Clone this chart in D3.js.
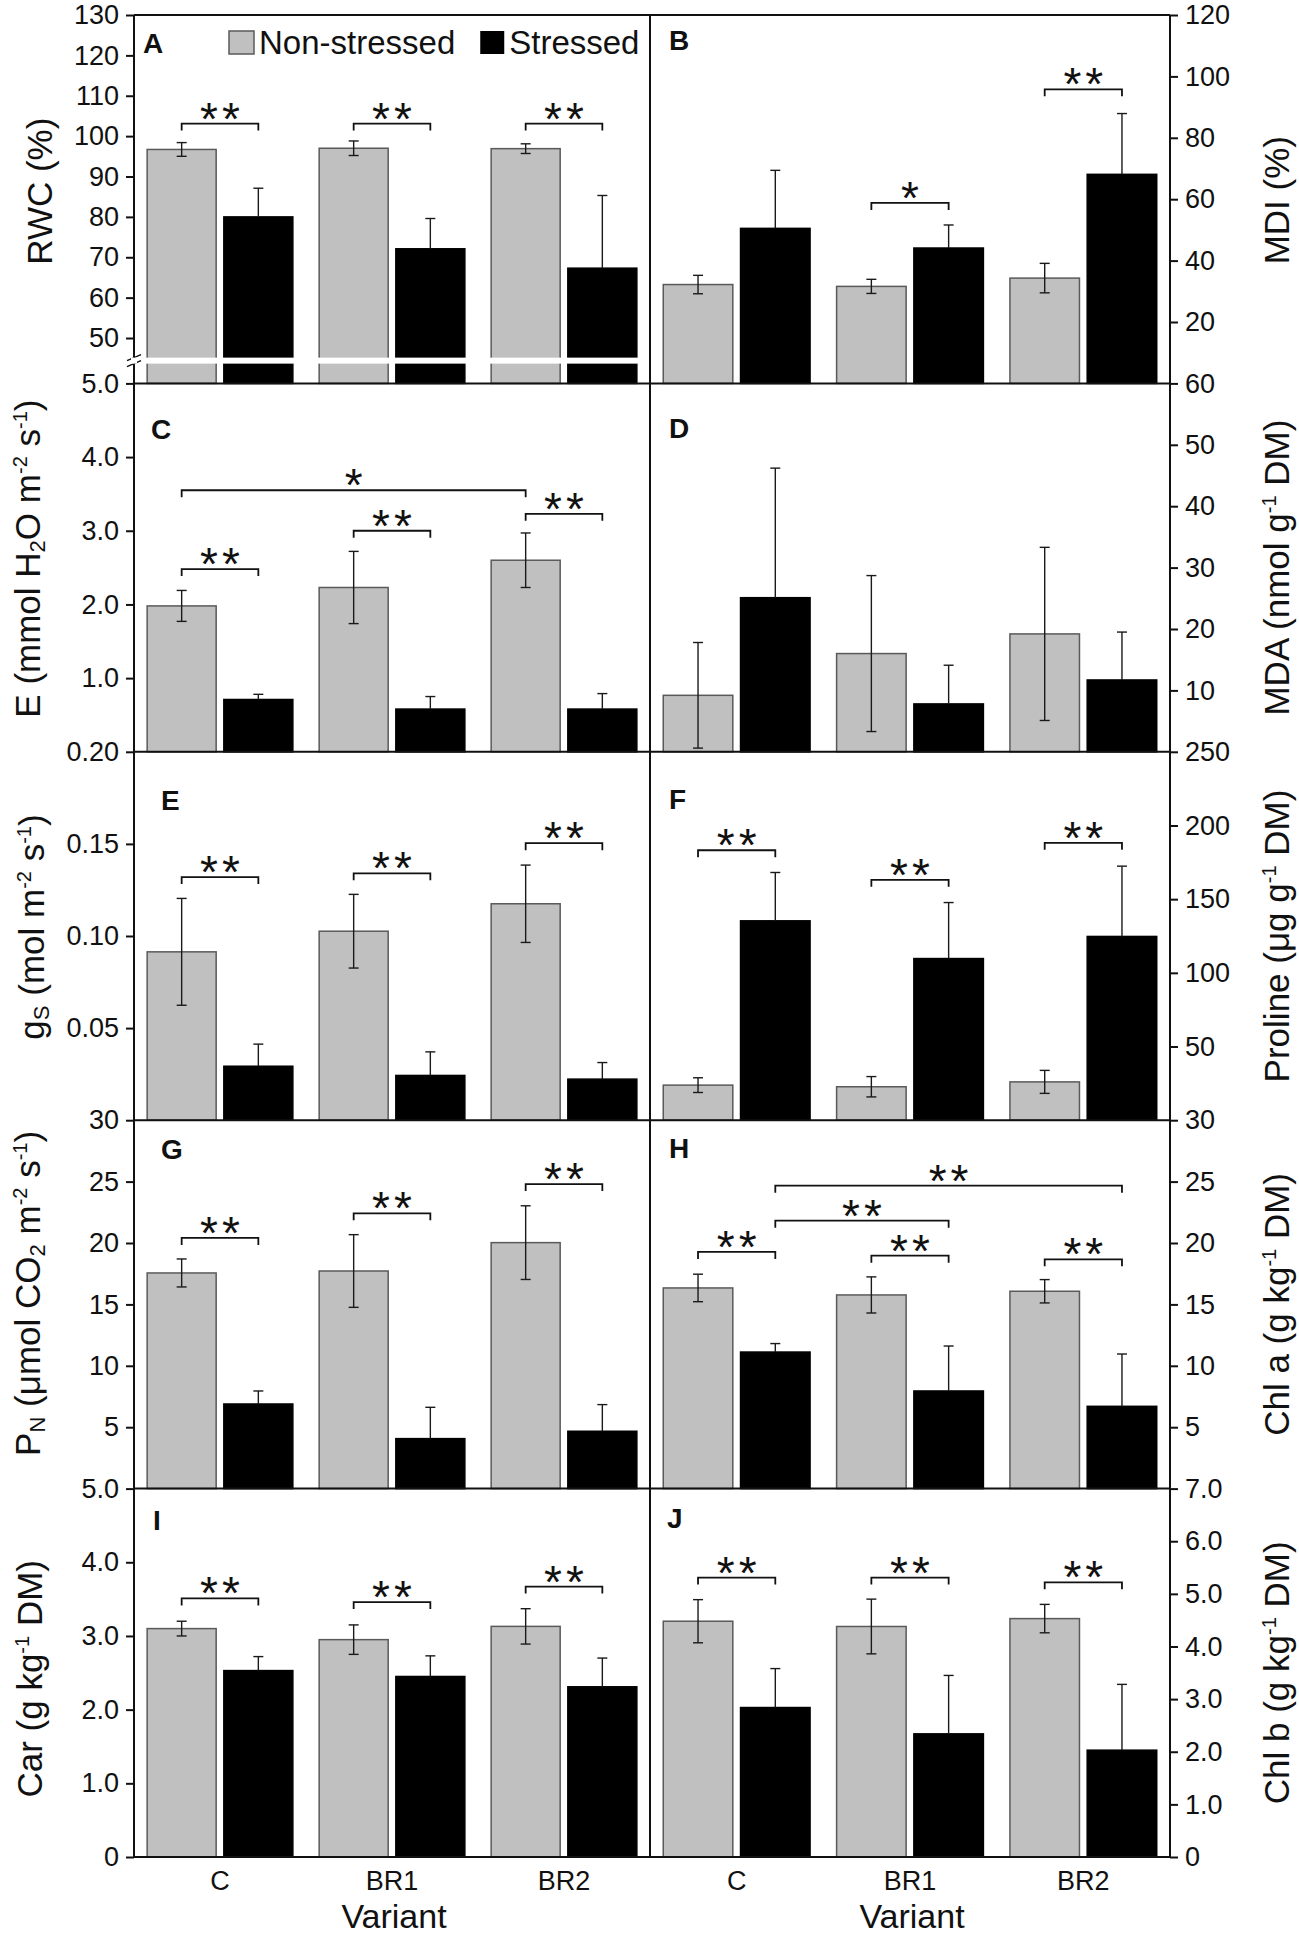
<!DOCTYPE html>
<html>
<head>
<meta charset="utf-8">
<script src="https://cdn.jsdelivr.net/npm/d3@7"></script>
<style>
  body { margin: 0; background: #fff; }
  svg text { font-family: "Liberation Sans", Arial, sans-serif; fill: #111; }
</style>
</head>
<body>
<div id="chart"></div>
<script>
//Data: [non-stressed, stressed] x [C, BR1, BR2]

	var variants = ["C", "BR1", "BR2"];
	var groups = ["Non-stressed", "Stressed"];

	//A - RWC (%)
	var rwcMean = [[96.7, 97.0, 96.9], [80.0, 72.1, 67.3]];
	var rwcErr = [[1.7, 1.8, 1.2], [7.1, 7.5, 18.0]];
	var rwcTicks = [50, 60, 70, 80, 90, 100, 110, 120, 130];
	var rwcSig = [[0, 1, 103.1, "**"], [2, 3, 103.1, "**"], [4, 5, 103.1, "**"]];

	//B - MDI (%)
	var mdiMean = [[32.2, 31.6, 34.3], [50.5, 44.1, 68.1]];
	var mdiErr = [[3.0, 2.3, 4.8], [18.9, 7.5, 19.8]];
	var mdiTicks = [20, 40, 60, 80, 100, 120];
	var mdiSig = [[2, 3, 58.8, "*"], [4, 5, 95.8, "**"]];

	//C - E
	var eMean = [[1.98, 2.23, 2.60], [0.71, 0.58, 0.58]];
	var eErr = [[0.21, 0.49, 0.37], [0.07, 0.17, 0.21]];
	var eTicks = [1, 2, 3, 4, 5];
	var eSig = [[0, 1, 2.48, "**"], [2, 3, 3.0, "**"], [4, 5, 3.23, "**"], [0, 4, 3.55, "*"]];

	//D - MDA
	var mdaMean = [[9.2, 16.0, 19.2], [25.1, 7.8, 11.7]];
	var mdaErr = [[8.6, 12.7, 14.1], [21.1, 6.3, 7.8]];
	var mdaTicks = [10, 20, 30, 40, 50, 60];
	var mdaSig = [];

	//E - gs
	var gsMean = [[0.0914, 0.1026, 0.1175], [0.0293, 0.0243, 0.0223]];
	var gsErr = [[0.029, 0.020, 0.021], [0.012, 0.0128, 0.009]];
	var gsTicks = [0.05, 0.10, 0.15, 0.20];
	var gsSig = [[0, 1, 0.132, "**"], [2, 3, 0.134, "**"], [4, 5, 0.1504, "**"]];

	//F - Proline
	var proMean = [[23.8, 22.7, 26.0], [135.3, 109.7, 124.7]];
	var proErr = [[5.0, 6.9, 7.8], [32.8, 38.0, 47.7]];
	var proTicks = [50, 100, 150, 200, 250];
	var proSig = [[0, 1, 183.2, "**"], [2, 3, 163.1, "**"], [4, 5, 188.2, "**"]];

	//G - PN
	var pnMean = [[17.56, 17.72, 20.03], [6.89, 4.07, 4.67]];
	var pnErr = [[1.14, 2.96, 3.0], [1.06, 2.55, 2.17]];
	var pnTicks = [5, 10, 15, 20, 25, 30];
	var pnSig = [[0, 1, 20.41, "**"], [2, 3, 22.42, "**"], [4, 5, 24.8, "**"]];

	//H - Chl a
	var chlaMean = [[16.34, 15.77, 16.07], [11.12, 7.95, 6.70]];
	var chlaErr = [[1.12, 1.47, 0.95], [0.69, 3.66, 4.26]];
	var chlaTicks = [5, 10, 15, 20, 25, 30];
	var chlaSig = [[0, 1, 19.27, "**"], [2, 3, 18.97, "**"], [4, 5, 18.67, "**"], [1, 3, 21.82, "**"], [1, 5, 24.67, "**"]];

	//I - Car
	var carMean = [[3.10, 2.95, 3.13], [2.53, 2.45, 2.31]];
	var carErr = [[0.10, 0.20, 0.24], [0.19, 0.28, 0.39]];
	var carTicks = [0, 1, 2, 3, 4, 5];
	var carSig = [[0, 1, 3.51, "**"], [2, 3, 3.46, "**"], [4, 5, 3.67, "**"]];

	//J - Chl b
	var chlbMean = [[4.48, 4.38, 4.53], [2.84, 2.34, 2.03]];
	var chlbErr = [[0.41, 0.52, 0.27], [0.74, 1.11, 1.25]];
	var chlbTicks = [0, 1, 2, 3, 4, 5, 6, 7];
	var chlbSig = [[0, 1, 5.31, "**"], [2, 3, 5.31, "**"], [4, 5, 5.22, "**"]];

//Layout
	var W = 1299, H = 1937;
	var leftX = 134, midX = 650, rightX = 1170;
	var topY = 15, rowH = 368.4;
	var font = "'Liberation Sans', Arial, sans-serif";

	var fmtInt = d3.format("d");
	var fmt1 = d3.format(".1f");
	var fmt2 = d3.format(".2f");
	var fmtZero1 = function(d) { return d === 0 ? "0" : fmt1(d); };

	//title pieces: [text, "sup" | "sub" | undefined]
	var panels = [
		{id: "A", col: 0, row: 0, mean: rwcMean, err: rwcErr, ticks: rwcTicks, lo: 38.76, fmt: fmtInt, sig: rwcSig,
			letter: [9, 38], titleX: 52, titleDy: -8, title: [["RWC (%)"]]},
		{id: "B", col: 1, row: 0, mean: mdiMean, err: mdiErr, ticks: mdiTicks, lo: 0, fmt: fmtInt, sig: mdiSig,
			letter: [19, 35], titleX: 1289, titleDy: 1, title: [["MDI (%)"]]},
		{id: "C", col: 0, row: 1, mean: eMean, err: eErr, ticks: eTicks, lo: 0, fmt: fmt1, sig: eSig,
			letter: [17, 56], titleX: 40, titleDy: -9, title: [["E (mmol H"], ["2", "sub"], ["O m"], ["-2", "sup"], [" s"], ["-1", "sup"], [")"]]},
		{id: "D", col: 1, row: 1, mean: mdaMean, err: mdaErr, ticks: mdaTicks, lo: 0, fmt: fmtInt, sig: mdaSig,
			letter: [19, 55], titleX: 1289, titleDy: 0, title: [["MDA (nmol g"], ["-1", "sup"], [" DM)"]]},
		{id: "E", col: 0, row: 2, mean: gsMean, err: gsErr, ticks: gsTicks, lo: 0, fmt: fmt2, sig: gsSig,
			letter: [27, 58], titleX: 44, titleDy: -9, title: [["g"], ["S", "sub"], [" (mol m"], ["-2", "sup"], [" s"], ["-1", "sup"], [")"]]},
		{id: "F", col: 1, row: 2, mean: proMean, err: proErr, ticks: proTicks, lo: 0, fmt: fmtInt, sig: proSig,
			letter: [19, 57], titleX: 1289, titleDy: 0, title: [["Proline (μg g"], ["-1", "sup"], [" DM)"]]},
		{id: "G", col: 0, row: 3, mean: pnMean, err: pnErr, ticks: pnTicks, lo: 0, fmt: fmtInt, sig: pnSig,
			letter: [27, 39], titleX: 40, titleDy: -11, title: [["P"], ["N", "sub"], [" (μmol CO"], ["2", "sub"], [" m"], ["-2", "sup"], [" s"], ["-1", "sup"], [")"]]},
		{id: "H", col: 1, row: 3, mean: chlaMean, err: chlaErr, ticks: chlaTicks, lo: 0, fmt: fmtInt, sig: chlaSig,
			letter: [19, 38], titleX: 1289, titleDy: 0, title: [["Chl a (g kg"], ["-1", "sup"], [" DM)"]]},
		{id: "I", col: 0, row: 4, mean: carMean, err: carErr, ticks: carTicks, lo: 0, fmt: fmtZero1, sig: carSig,
			letter: [19, 41], titleX: 42, titleDy: 6, title: [["Car (g kg"], ["-1", "sup"], [" DM)"]]},
		{id: "J", col: 1, row: 4, mean: chlbMean, err: chlbErr, ticks: chlbTicks, lo: 0, fmt: fmtZero1, sig: chlbSig,
			letter: [17, 39], titleX: 1289, titleDy: 0, title: [["Chl b (g kg"], ["-1", "sup"], [" DM)"]]}
	];

//Canvas
	var svg = d3.select("#chart").append("svg")
		.attr("width", W)
		.attr("height", H)
		.style("display", "block");

	var plotLayer = svg.append("g");
	var frameLayer = svg.append("g");

	panels.forEach(function(p) {
		var px = p.col === 0 ? leftX : midX,
			pw = p.col === 0 ? midX - leftX : rightX - midX,
			py = topY + p.row * rowH;

		var g = plotLayer.append("g").attr("transform", "translate(" + px + "," + py + ")");

		var x0 = d3.scaleBand().domain(variants).range([0, pw]).paddingInner(0.153).paddingOuter(0.0765);
		var x1 = d3.scaleBand().domain(groups).range([0, x0.bandwidth()]).paddingInner(0.1);
		var y = d3.scaleLinear().domain([p.lo, p.ticks[p.ticks.length - 1]]).range([rowH, 0]);

		var cx = function(k) { return x0(variants[Math.floor(k / 2)]) + x1(groups[k % 2]) + x1.bandwidth() / 2; };

		var bars = [];
		groups.forEach(function(s, si) {
			variants.forEach(function(v, vi) {
				bars.push({v: v, s: s, si: si, mean: p.mean[si][vi], err: p.err[si][vi]});
			});
		});

		//bars
		g.selectAll("rect.bar")
			.data(bars)
			.enter()
			.append("rect")
				.attr("class", "bar")
				.attr("x", function(d) { return x0(d.v) + x1(d.s); })
				.attr("y", function(d) { return y(d.mean); })
				.attr("width", x1.bandwidth())
				.attr("height", function(d) { return rowH - y(d.mean); })
				.attr("fill", function(d) { return d.si === 0 ? "#c0c0c0" : "#000"; })
				.attr("stroke", function(d) { return d.si === 0 ? "#5a5a5a" : "#000"; })
				.attr("stroke-width", 1.5);

		//error bars (only the upper half shows on the black bars)
		var eb = g.selectAll("g.err")
			.data(bars)
			.enter()
			.append("g")
				.attr("class", "err")
				.attr("stroke", "#1a1a1a")
				.attr("stroke-width", 1.4)
				.attr("transform", function(d) { return "translate(" + (x0(d.v) + x1(d.s) + x1.bandwidth() / 2) + ",0)"; });
		eb.append("line")
			.attr("y1", function(d) { return y(d.mean + d.err); })
			.attr("y2", function(d) { return d.si === 0 ? y(Math.max(p.lo, d.mean - d.err)) : y(d.mean); });
		eb.append("line")
			.attr("x1", -5).attr("x2", 5)
			.attr("y1", function(d) { return y(d.mean + d.err); })
			.attr("y2", function(d) { return y(d.mean + d.err); });
		eb.filter(function(d) { return d.si === 0; })
			.append("line")
			.attr("x1", -5).attr("x2", 5)
			.attr("y1", function(d) { return y(d.mean - d.err); })
			.attr("y2", function(d) { return y(d.mean - d.err); });

		//axis break on the RWC panel
		if (p.id === "A") {
			var yb = y(44.4);
			g.append("rect")
				.attr("x", -8).attr("y", yb - 3)
				.attr("width", pw - 1).attr("height", 6)
				.attr("fill", "#fff");
			[-3, 3].forEach(function(o) {
				g.append("line")
					.attr("x1", -7).attr("y1", yb + o + 3)
					.attr("x2", 7).attr("y2", yb + o - 3)
					.attr("stroke", "#111").attr("stroke-width", 1.5);
			});
		}

		//significance brackets
		var sig = g.selectAll("g.sig")
			.data(p.sig)
			.enter()
			.append("g")
				.attr("class", "sig");
		sig.append("path")
			.attr("d", function(d) {
				var a = cx(d[0]), b = cx(d[1]), yy = y(d[2]);
				return "M" + a + "," + (yy + 7) + "V" + yy + "H" + b + "V" + (yy + 7);
			})
			.attr("fill", "none")
			.attr("stroke", "#111")
			.attr("stroke-width", 1.8);
		sig.append("text")
			.attr("x", function(d) { return (cx(d[0]) + cx(d[1])) / 2 + 2; })
			.attr("y", function(d) { return y(d[2]) + 11; })
			.attr("text-anchor", "middle")
			.attr("font-size", 46)
			.attr("letter-spacing", 4)
			.text(function(d) { return d[3]; });

		//panel letter
		g.append("text")
			.attr("x", p.letter[0])
			.attr("y", p.letter[1])
			.attr("font-size", 28)
			.attr("font-weight", "bold")
			.text(p.id);

		//y axis
		var axis = (p.col === 0 ? d3.axisLeft(y) : d3.axisRight(y))
			.tickValues(p.ticks)
			.tickFormat(p.fmt)
			.tickSize(8)
			.tickPadding(7);
		var ag = g.append("g")
			.attr("transform", "translate(" + (p.col === 0 ? 0 : pw) + ",0)")
			.call(axis)
			.attr("font-size", 27)
			.attr("font-family", font);
		ag.select(".domain").remove();
		ag.selectAll(".tick line").attr("stroke", "#111").attr("stroke-width", 2);
		ag.selectAll(".tick text").attr("fill", "#111");

		//y title (rotated, with sub/superscripts)
		var t = svg.append("text")
			.attr("transform", "translate(" + p.titleX + "," + (py + rowH / 2 + p.titleDy) + ") rotate(-90)")
			.attr("text-anchor", "middle")
			.attr("font-size", 35);
		var shift = 0;
		p.title.forEach(function(piece) {
			var target = piece[1] === "sup" ? -13 : piece[1] === "sub" ? 5 : 0;
			t.append("tspan")
				.attr("dy", target - shift)
				.attr("font-size", piece[1] === "sup" ? 20 : piece[1] === "sub" ? 22 : 35)
				.text(piece[0]);
			shift = target;
		});

		//legend in panel A
		if (p.id === "A") {
			var leg = g.append("g").attr("transform", "translate(95,16)");
			leg.append("rect").attr("width", 25).attr("height", 23)
				.attr("fill", "#c0c0c0").attr("stroke", "#5a5a5a").attr("stroke-width", 1.5);
			var t1 = leg.append("text").attr("x", 30).attr("y", 23).attr("font-size", 33).text(groups[0]);
			var x2 = 30 + t1.node().getComputedTextLength() + 25;
			leg.append("rect").attr("x", x2).attr("width", 24).attr("height", 23).attr("fill", "#000");
			leg.append("text").attr("x", x2 + 29).attr("y", 23).attr("font-size", 33).text(groups[1]);
		}

		//x labels on the bottom row
		if (p.row === 4) {
			g.selectAll("text.xlab")
				.data(variants)
				.enter()
				.append("text")
					.attr("class", "xlab")
					.attr("x", function(d) { return x0(d) + x0.bandwidth() / 2; })
					.attr("y", rowH + 33)
					.attr("text-anchor", "middle")
					.attr("font-size", 27)
					.text(function(d) { return d; });
			g.append("text")
				.attr("x", pw / 2 + 2)
				.attr("y", rowH + 71)
				.attr("text-anchor", "middle")
				.attr("font-size", 34)
				.text("Variant");
		}
	});

//Frame lines
	var bottomY = topY + 5 * rowH;
	var frame = d3.path();
	d3.range(6).forEach(function(i) {
		frame.moveTo(leftX, topY + i * rowH);
		frame.lineTo(rightX, topY + i * rowH);
	});
	[leftX, midX, rightX].forEach(function(x) {
		frame.moveTo(x, topY);
		frame.lineTo(x, bottomY);
	});
	frameLayer.append("path")
		.attr("d", frame.toString())
		.attr("fill", "none")
		.attr("stroke", "#111")
		.attr("stroke-width", 2);

	//keep the break gap open across the left axis
	var yBreak = topY + (130 - 44.4) / (130 - 38.76) * rowH;
	frameLayer.append("rect")
		.attr("x", leftX - 3).attr("y", yBreak - 3)
		.attr("width", 6).attr("height", 6)
		.attr("fill", "#fff");
</script>
</body>
</html>
